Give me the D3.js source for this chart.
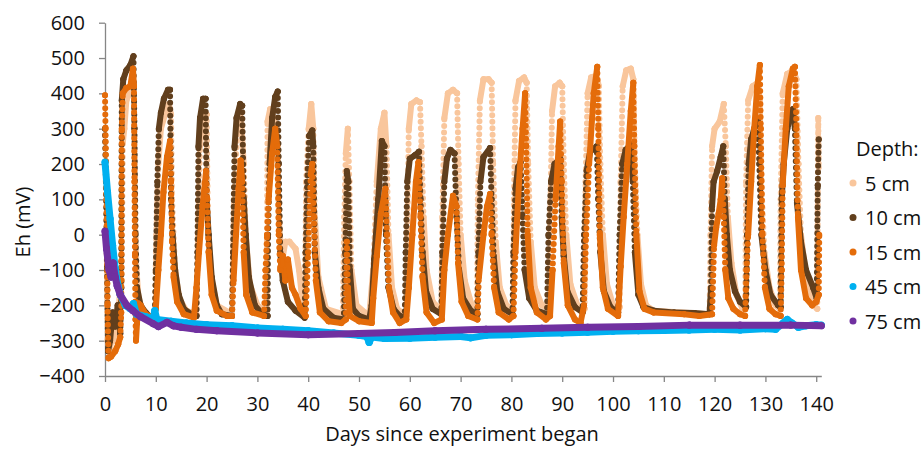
<!DOCTYPE html>
<html><head><meta charset="utf-8">
<script src="https://cdn.jsdelivr.net/npm/d3@7"></script>
<style>body{margin:0;background:#fff}text{font-family:"Open Sans",sans-serif}</style>
</head><body><svg id="c" width="922" height="449"></svg>
<script>
const seriesNames = ["5 cm","10 cm","15 cm","45 cm","75 cm"];
const seriesColors = ["#F9C69C","#613F1D","#E46C0A","#00B0F0","#7030A0"];
const xTicks = [0,10,20,30,40,50,60,70,80,90,100,110,120,130,140];
const yTicks = [-400,-300,-200,-100,0,100,200,300,400,500,600];

// [day, Eh mV]
const eh5 = [[0,280],[0.3,0],[0.5,-300],[1,-320],[1.5,-280],[2,-300],[2.5,-250],[3,-150],[3.3,-130],[3.5,260],[3.8,300],[4.2,380],[4.8,400],[5.3,430],[5.7,420],[5.9,100],[6.2,-100],[6.6,-180],[7.5,-215],[9,-235],[9.8,-235],[10.1,0],[10.5,200],[11,300],[11.8,340],[12.6,370],[13,340],[13.2,100],[13.8,-100],[14.6,-180],[16,-215],[18,-225],[18.3,0],[18.7,250],[19.3,330],[20,340],[20.3,0],[21,-130],[22,-200],[25,-225],[25.4,100],[26,290],[26.8,330],[27.3,200],[27.7,0],[28.5,-140],[30,-200],[31.8,-220],[32,320],[32.5,355],[33.2,330],[33.8,300],[34.2,50],[34.8,-80],[35.5,-20],[36.3,-20],[37.5,-40],[38.2,-100],[38.8,-180],[39.3,-220],[39.6,150],[40.1,300],[40.6,370],[41,300],[41.3,50],[42,-120],[43.5,-210],[46.8,-225],[47.1,50],[47.4,230],[47.8,300],[48.1,150],[48.5,-100],[49.5,-200],[52,-230],[52.8,-100],[53.5,150],[54.3,300],[55,345],[55.4,250],[55.8,0],[56.5,-150],[57.5,-210],[59.3,-230],[59.5,0],[59.8,300],[60.3,370],[61.3,380],[62,375],[62.3,250],[62.7,50],[63.3,-100],[64.5,-190],[66.2,-215],[66.4,50],[66.8,330],[67.5,400],[68.5,410],[69.3,400],[69.6,200],[70,0],[70.8,-130],[72.2,-200],[73.2,-210],[73.4,100],[73.8,380],[74.5,440],[75.5,440],[76.1,430],[76.4,200],[76.9,-20],[77.7,-150],[79,-200],[80.3,-210],[80.5,100],[80.8,380],[81.5,435],[82.5,445],[83,430],[83.3,200],[83.8,-20],[84.6,-150],[86,-200],[87.5,-210],[87.7,100],[88,350],[88.6,420],[89.5,430],[90,420],[90.3,200],[90.8,0],[91.6,-140],[93,-200],[94.4,-210],[94.6,150],[95,400],[95.7,445],[96.8,450],[97.2,420],[97.5,200],[98,0],[98.8,-140],[100,-200],[101.3,-205],[101.5,150],[101.9,420],[102.6,465],[103.5,470],[104,440],[104.3,200],[104.8,0],[105.5,-140],[106.5,-200],[108,-215],[119,-225],[119.2,0],[119.5,250],[120,300],[121,320],[121.8,370],[122.2,250],[122.6,50],[123.3,-80],[124.3,-170],[125.5,-210],[126,-210],[126.2,150],[126.6,380],[127.5,420],[128.5,430],[128.9,380],[129.2,150],[129.8,-50],[130.8,-150],[132,-200],[132.8,-210],[133,100],[133.4,400],[134.3,455],[135.5,465],[136.1,440],[136.5,200],[137,0],[138,-120],[139.5,-200],[140.2,-210],[140.4,330],[140.5,190]];

const eh10 = [[0,300],[0.2,150],[0.4,-100],[0.6,-330],[1,-300],[1.5,-220],[2,-260],[2.5,-200],[3,-280],[3.2,-150],[3.3,380],[3.6,440],[4.2,465],[5,480],[5.6,505],[5.8,300],[6.0,0],[6.3,-150],[7,-200],[8,-220],[9,-235],[9.8,-235],[10.0,-100],[10.3,150],[10.6,300],[11,345],[11.6,385],[12.4,410],[12.8,410],[13.0,100],[13.3,0],[13.8,-100],[14.5,-170],[15.5,-210],[17,-225],[18,-230],[18.2,-50],[18.4,250],[18.7,330],[19.3,385],[19.8,385],[20.0,100],[20.4,0],[21,-120],[22,-200],[23,-225],[25,-230],[25.2,-50],[25.5,250],[25.9,330],[26.6,370],[27.0,365],[27.3,100],[27.7,0],[28.3,-120],[29.5,-200],[31,-225],[32,-230],[32.1,0],[32.4,200],[32.9,330],[33.5,390],[34.0,405],[34.2,200],[34.5,-50],[35,-130],[36,-190],[37.5,-215],[39.3,-235],[39.5,-50],[39.8,150],[40.2,280],[40.8,295],[41.0,250],[41.3,-50],[42,-150],[43,-210],[45,-235],[47.0,-240],[47.3,-50],[47.6,180],[47.9,150],[48.2,-100],[48.8,-210],[50,-230],[52,-240],[52.5,-200],[53,-70],[53.8,100],[54.5,265],[55,250],[55.3,0],[55.8,-150],[56.8,-210],[58,-230],[59.0,-235],[59.2,-50],[59.5,150],[60,215],[61,225],[61.8,235],[62.1,100],[62.5,-50],[63.2,-160],[64.5,-210],[66.2,-225],[66.4,-50],[66.8,150],[67.3,215],[68,240],[68.8,230],[69.2,50],[69.7,-100],[70.5,-180],[72,-215],[73.3,-225],[73.5,-50],[73.9,150],[74.5,220],[75.8,245],[76.1,100],[76.5,-60],[77.2,-160],[78.5,-210],[80.2,-225],[80.4,-50],[80.8,130],[81.3,190],[81.8,205],[82.2,50],[82.6,-100],[83.5,-180],[85,-215],[87.0,-225],[87.3,0],[87.8,150],[88.5,200],[89.6,215],[89.9,50],[90.3,-60],[91,-160],[92.5,-205],[94,-220],[94.3,0],[94.8,180],[95.5,235],[96.8,250],[97.1,100],[97.5,-50],[98.2,-160],[99.5,-205],[101,-220],[101.3,0],[101.8,200],[102.5,240],[103.5,255],[103.9,150],[104.3,-50],[105,-170],[106,-205],[108,-215],[112,-220],[116,-222],[119,-225],[119.3,-150],[119.5,80],[119.8,150],[120.5,180],[121.2,220],[121.7,250],[122.0,100],[122.4,0],[123,-100],[124,-160],[125,-190],[126.2,-205],[126.4,0],[126.7,200],[127.2,270],[128.0,310],[128.5,325],[128.8,200],[129.2,0],[130,-100],[131,-170],[132.5,-200],[133,-205],[133.2,100],[133.6,200],[134.3,300],[135.4,355],[135.8,300],[136.2,90],[137,-20],[138,-100],[139.4,-150],[140.1,-180],[140.3,140],[140.5,270]];

const eh15 = [[0,395],[0.1,300],[0.3,100],[0.5,-200],[0.7,-350],[1.2,-345],[2,-330],[2.6,-310],[3.0,-290],[3.2,-220],[3.3,300],[3.5,400],[4.2,415],[5,420],[5.5,470],[5.7,420],[5.8,150],[5.9,-60],[6.0,-240],[6.1,-300],[6.3,-250],[6.6,-195],[7,-200],[8,-225],[9.5,-235],[10,-210],[10.5,-100],[11,0],[11.5,120],[12.2,220],[12.8,265],[13.0,150],[13.2,-20],[13.5,-120],[14.2,-190],[15.5,-225],[17.5,-235],[18,-150],[18.5,-50],[19.2,80],[19.9,180],[20.1,100],[20.4,-50],[21,-170],[22,-215],[24,-230],[25,-230],[25.3,-130],[25.8,0],[26.3,130],[26.7,210],[27,150],[27.3,-50],[27.8,-170],[29,-220],[31.3,-230],[31.6,-100],[31.9,0],[32.2,100],[32.9,230],[33.5,300],[33.9,250],[34.2,0],[34.5,-100],[35,-60],[35.5,-130],[36,-70],[36.8,-150],[37.5,-170],[38.5,-210],[39.5,-230],[40,-50],[40.5,170],[40.8,200],[41.1,50],[41.5,-130],[42.3,-220],[44,-245],[46.5,-250],[47.4,-240],[47.6,-20],[47.8,-150],[48.2,-230],[50,-245],[52.5,-250],[52.8,-180],[53.5,-60],[54.3,60],[55.2,130],[55.5,0],[55.9,-150],[56.7,-220],[58,-250],[59.3,-240],[59.8,-150],[60.5,0],[61.2,150],[61.7,205],[62.1,50],[62.5,-120],[63.3,-220],[64.8,-250],[66.3,-240],[66.8,-100],[67.5,0],[68.5,110],[69.2,80],[69.5,-80],[70.2,-190],[71.5,-230],[73.3,-240],[73.6,-120],[74.5,0],[75.2,80],[75.8,115],[76.1,0],[76.6,-150],[77.5,-220],[79.5,-240],[80.4,-230],[80.8,-50],[81.5,150],[82.2,300],[82.7,400],[82.9,250],[83.2,0],[83.8,-150],[85,-220],[86.8,-240],[87.6,-230],[88.1,-100],[88.7,100],[89.3,250],[89.6,320],[89.9,150],[90.3,-80],[91.1,-200],[92.5,-240],[93.6,-250],[94.3,-200],[94.7,0],[95.3,200],[96.2,400],[96.9,475],[97.1,300],[97.4,0],[98,-150],[99,-210],[101,-230],[101.5,-90],[102.1,50],[102.8,200],[103.5,350],[104,430],[104.2,250],[104.6,0],[105.2,-160],[106.2,-210],[108,-220],[114,-225],[117,-230],[119.5,-225],[119.9,-30],[120.3,20],[120.8,60],[121.2,100],[121.5,160],[121.8,50],[122.1,-100],[122.7,-180],[123.7,-210],[125,-225],[126,-230],[126.3,-100],[126.6,0],[127.2,150],[127.8,300],[128.4,420],[128.9,480],[129.1,300],[129.4,0],[129.9,-150],[130.8,-210],[132,-225],[133,-230],[133.2,-100],[133.4,140],[134,300],[134.6,420],[135.4,470],[135.8,475],[136.1,300],[136.4,50],[137,-100],[138,-180],[139.2,-200],[140,-190],[140.5,-170],[140.6,0]];

const eh45 = [[0,205],[0.5,120],[1,45],[1.5,-30],[2,-95],[2.5,-140],[3,-170],[4,-200],[5,-210],[5.6,-195],[6.2,-225],[8,-232],[9.5,-238],[9.8,-215],[10.2,-240],[13,-245],[16,-250],[20,-255],[25,-258],[30,-264],[35,-268],[40,-272],[45,-278],[50,-285],[51.5,-288],[52,-305],[52.5,-290],[55,-294],[60,-293],[65,-290],[70,-288],[72,-292],[75,-285],[80,-283],[85,-280],[90,-278],[95,-276],[100,-273],[105,-272],[110,-271],[115,-270],[120,-268],[125,-270],[130,-266],[132,-268],[133.5,-250],[134.3,-240],[135.2,-250],[136.5,-262],[138,-258],[140,-255],[141,-256]];

const eh75 = [[0,10],[0.3,-40],[0.8,-100],[1.2,-120],[1.6,-80],[2,-120],[2.4,-145],[3,-170],[4.3,-200],[5.5,-215],[7,-232],[9.5,-252],[10.5,-260],[12.2,-248],[13.5,-258],[15,-262],[18,-268],[22,-272],[30,-278],[40,-283],[50,-280],[57,-277],[65,-272],[75,-268],[86,-265],[95,-262],[105,-260],[115,-256],[125,-256],[135,-256],[141,-258]];

const allSeries = [eh5, eh10, eh15, eh45, eh75];

const svg = d3.select("#c");
const x = d3.scaleLinear().domain([0,141]).range([105,821.3]);
const y = d3.scaleLinear().domain([-400,600]).range([376,22.7]);
const axisColor = "#868686";
const fs = "20px";

const yAx = svg.append("g").attr("transform","translate(105,0)")
  .call(d3.axisLeft(y).tickValues(yTicks).tickSize(6).tickPadding(14).tickSizeOuter(0));
const xAx = svg.append("g").attr("transform","translate(0,376)")
  .call(d3.axisBottom(x).tickValues(xTicks).tickSize(6).tickPadding(15).tickSizeOuter(0));
[yAx,xAx].forEach(g=>{
  g.selectAll("path,line").attr("stroke",axisColor).attr("stroke-width",1.3);
  g.selectAll("text").attr("fill","#111").style("font-size",fs).style("font-family","'Open Sans',sans-serif");
});

const line = d3.line().x(d=>x(d[0])).y(d=>y(d[1]));
allSeries.forEach((s,i)=>{
  const w = i>=3 ? 7 : 6;
  const g = svg.append("g");
  d3.pairs(s).forEach(([a,b])=>{
    const dx = Math.abs(x(b[0])-x(a[0])), dy = Math.abs(y(b[1])-y(a[1]));
    const steep = dy > 20 && dy/Math.max(dx,0.01) > 20;
    g.append("path").attr("d",line([a,b])).attr("fill","none")
      .attr("stroke",seriesColors[i]).attr("stroke-width",w)
      .attr("stroke-linecap","round")
      .attr("stroke-dasharray", steep ? "0 6.5" : null);
  });
  g.selectAll("circle").data(s).join("circle")
    .attr("cx",d=>x(d[0])).attr("cy",d=>y(d[1])).attr("r",w/2)
    .attr("fill",seriesColors[i]);
});

svg.append("text").attr("transform","translate(30,222) rotate(-90)")
  .attr("text-anchor","middle").attr("fill","#111").style("font-size",fs).text("Eh (mV)");
svg.append("text").attr("x",462).attr("y",441)
  .attr("text-anchor","middle").attr("fill","#111").style("font-size",fs).text("Days since experiment began");

const lg = svg.append("g");
lg.append("text").attr("x",856).attr("y",148).attr("dominant-baseline","central")
  .attr("fill","#111").style("font-size",fs).text("Depth:");
seriesNames.forEach((n,i)=>{
  const cy = 183 + i*34.5;
  lg.append("circle").attr("cx",853).attr("cy",cy).attr("r",3.5).attr("fill",seriesColors[i]);
  lg.append("text").attr("x",865).attr("y",cy).attr("dominant-baseline","central")
    .attr("fill","#111").style("font-size",fs).text(n);
});
</script></body></html>
